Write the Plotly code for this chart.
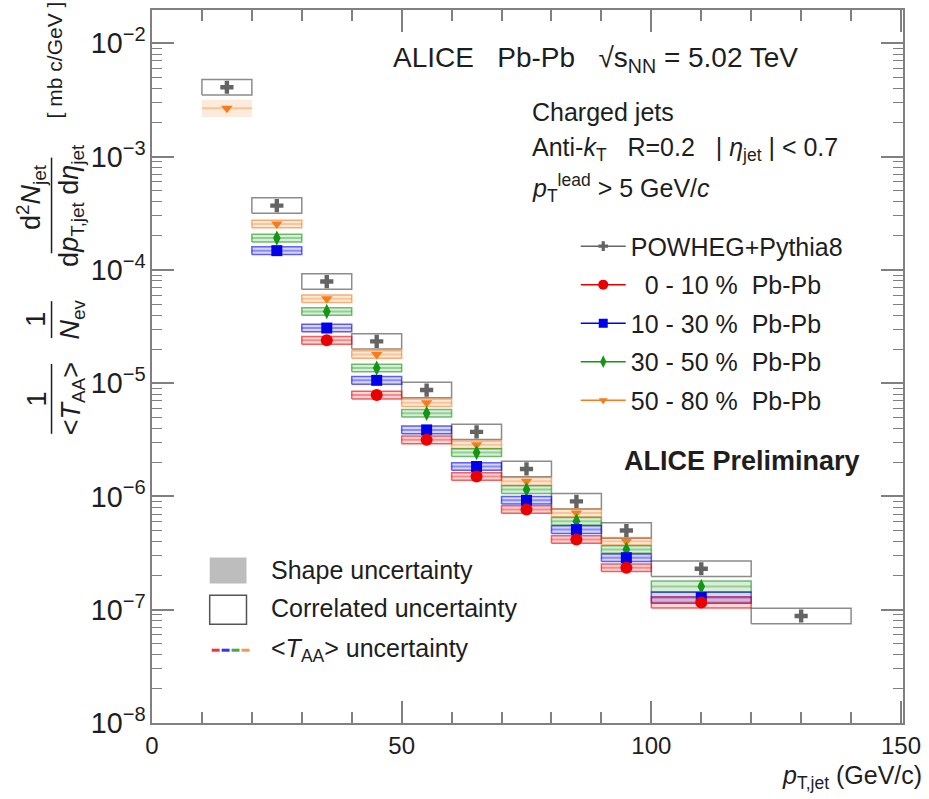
import plotly.graph_objects as go

# ---- data -------------------------------------------------------------
bin_lo = [10, 20, 30, 40, 50, 60, 70, 80, 90, 100, 120]
bin_hi = [20, 30, 40, 50, 60, 70, 80, 90, 100, 120, 140]

powheg = [4.1e-3, 3.7e-4, 7.9e-5, 2.34e-5, 8.7e-6, 3.72e-6, 1.75e-6, 9.06e-7, 5.0e-7, 2.30e-7, 8.8e-8]
cent_0_10 = [None, None, 2.39e-5, 7.85e-6, 3.16e-6, 1.50e-6, 7.66e-7, 4.17e-7, 2.35e-7, 1.16e-7, None]
cent_10_30 = [None, 1.48e-4, 3.07e-5, 1.06e-5, 3.87e-6, 1.84e-6, 9.25e-7, 5.10e-7, 2.88e-7, 1.28e-7, None]
cent_30_50 = [None, 1.91e-4, 4.30e-5, 1.36e-5, 5.42e-6, 2.44e-6, 1.15e-6, 6.04e-7, 3.40e-7, 1.60e-7, None]
cent_50_80 = [2.67e-3, 2.54e-4, 5.57e-5, 1.79e-5, 6.73e-6, 2.86e-6, 1.36e-6, 7.16e-7, 4.03e-7, None, None]

# relative uncertainties per bin
powheg_corr_rel = [0.17] * 11
pbpb_shape_rel = [0.19, 0.08, 0.08, 0.08, 0.08, 0.08, 0.08, 0.08, 0.08, 0.12, None]
pbpb_corr_rel = [None, 0.08, 0.08, 0.08, 0.08, 0.08, 0.08, 0.08, 0.08, 0.12, None]

x_ticks = [0, 50, 100, 150]

# ---- geometry helpers (pixel -> paper) ---------------------------------
W, H = 929, 799
ML, MR, MT, MB = 152, 22, 8, 76
PW, PH = W - ML - MR, H - MT - MB


def px(x):
    return (x - ML) / PW


def py(y):
    return 1 - (y - MT) / PH


centers = [(a + b) / 2 for a, b in zip(bin_lo, bin_hi)]
half_w = [(b - a) / 2 for a, b in zip(bin_lo, bin_hi)]


def boxes(values, rel):
    xs, ys = [], []
    for x0, x1, v, r in zip(bin_lo, bin_hi, values, rel):
        if v is None or r is None:
            continue
        lo, hi = v / (1 + r), v * (1 + r)
        xs += [x0, x1, x1, x0, x0, None]
        ys += [lo, lo, hi, hi, lo, None]
    return xs, ys


def rgba(rgb, a):
    return "rgba(%d,%d,%d,%.2f)" % (rgb[0], rgb[1], rgb[2], a)


GREY = (100, 100, 100)
RED = (235, 0, 0)
BLUE = (0, 0, 235)
GREEN = (20, 150, 20)
ORANGE = (245, 125, 30)

series = [
    ("\u00a0\u00a00 - 10 %\u00a0\u00a0Pb-Pb", cent_0_10, RED, "circle", 12),
    ("10 - 30 %\u00a0\u00a0Pb-Pb", cent_10_30, BLUE, "square", 11),
    ("30 - 50 %\u00a0\u00a0Pb-Pb", cent_30_50, GREEN, "diamond-tall", 11),
    ("50 - 80 %\u00a0\u00a0Pb-Pb", cent_50_80, ORANGE, "triangle-down", 10),
]

fig = go.Figure()

# POWHEG correlated-uncertainty boxes
bx, by = boxes(powheg, powheg_corr_rel)
fig.add_trace(go.Scatter(x=bx, y=by, mode="lines", fill="toself",
                         fillcolor="rgba(255,255,255,0)",
                         line=dict(color="rgba(120,120,120,0.85)", width=1.5),
                         showlegend=False, hoverinfo="skip"))

# Pb-Pb shape (filled) and correlated (outline) boxes, drawn from peripheral to central
for name, vals, col, sym, sz in reversed(series):
    sx, sy = boxes(vals, pbpb_shape_rel)
    fig.add_trace(go.Scatter(x=sx, y=sy, mode="lines", fill="toself",
                             fillcolor=rgba(col, 0.16), line=dict(width=0),
                             showlegend=False, hoverinfo="skip"))
    cx, cy = boxes(vals, pbpb_corr_rel)
    fig.add_trace(go.Scatter(x=cx, y=cy, mode="lines",
                             line=dict(color=rgba(col, 0.6), width=1.5),
                             showlegend=False, hoverinfo="skip"))

# POWHEG points
fig.add_trace(go.Scatter(x=centers, y=powheg, mode="markers",
                         marker=dict(symbol="cross", size=11, color=rgba(GREY, 1)),
                         showlegend=False))

# Pb-Pb points with bin-width bars
for name, vals, col, sym, sz in reversed(series):
    fig.add_trace(go.Scatter(
        x=centers, y=vals, mode="markers",
        marker=dict(symbol=sym, size=sz, color=rgba(col, 1)),
        error_x=dict(type="data", array=half_w, symmetric=True, width=0,
                     thickness=2, color=rgba(col, 0.35)),
        showlegend=False))

# legend entries
fig.add_trace(go.Scatter(x=[None], y=[None], mode="lines+markers", name="POWHEG+Pythia8",
                         legendgroup="a",
                         line=dict(color=rgba(GREY, 1), width=1.5),
                         marker=dict(symbol="cross", size=8, color=rgba(GREY, 1))))
for i, (name, vals, col, sym, sz) in enumerate(series):
    fig.add_trace(go.Scatter(x=[None], y=[None], mode="lines+markers", name=name,
                             legendgroup="g%d" % i,
                             line=dict(color=rgba(col, 1), width=1.5),
                             marker=dict(symbol=sym, size=sz - 2, color=rgba(col, 1))))

FONT = "Liberation Sans, Arial, Helvetica, sans-serif"
TXT = "#1e1e1e"
AX = "#808080"

shapes = []
ann = []


def text(x, y, s, size, anchor="left", bold=False, angle=0):
    ann.append(dict(x=px(x), y=py(y), xref="paper", yref="paper", text=s,
                    showarrow=False, xanchor=anchor, yanchor="middle",
                    textangle=angle,
                    font=dict(family=FONT, size=size, color=TXT,
                              weight="bold" if bold else "normal")))


# headline and selection info
text(392, 58, "ALICE\u00a0\u00a0\u00a0Pb-Pb\u00a0\u00a0\u00a0\u221as<sub>NN</sub> = 5.02 TeV", 28)
text(532, 110, "Charged jets", 25)
text(532, 147, "Anti-<i>k</i><sub>T</sub>\u00a0\u00a0\u00a0R=0.2\u00a0\u00a0\u00a0| <i>\u03b7</i><sub>jet</sub> | &lt; 0.7", 25)
text(532, 186, "<i>p</i><sub>T</sub><sup>lead</sup> &gt; 5 GeV/<i>c</i>", 25)
text(625, 460, "ALICE Preliminary", 27, bold=True)

# uncertainty key
shapes.append(dict(type="rect", xref="paper", yref="paper", x0=px(210), x1=px(247),
                   y0=py(583), y1=py(557), fillcolor="#bdbdbd", line=dict(width=0)))
shapes.append(dict(type="rect", xref="paper", yref="paper", x0=px(210), x1=px(247),
                   y0=py(624), y1=py(595), fillcolor="rgba(0,0,0,0)",
                   line=dict(color="#555555", width=1.5)))
seg_cols = [RED, BLUE, GREEN, ORANGE]
for k, c in enumerate(seg_cols):
    x0 = 212 + k * 10
    shapes.append(dict(type="line", xref="paper", yref="paper", x0=px(x0), x1=px(x0 + 8),
                       y0=py(650), y1=py(650), line=dict(color=rgba(c, 0.8), width=3)))
text(270, 570, "Shape uncertainty", 25)
text(270, 608, "Correlated uncertainty", 25)
text(270, 650, "&lt;<i>T</i><sub>AA</sub>&gt; uncertainty", 25)

# y-axis title built from stacked fractions
text(36, 398, "1", 27, anchor="center", angle=-90)
text(72, 398, "&lt;<i>T</i><sub>AA</sub>&gt;", 27, anchor="center", angle=-90)
shapes.append(dict(type="line", xref="paper", yref="paper", x0=px(51), x1=px(51),
                   y0=py(363), y1=py(433), line=dict(color=TXT, width=1.5)))
text(36, 318, "1", 27, anchor="center", angle=-90)
text(72, 318, "<i>N</i><sub>ev</sub>", 27, anchor="center", angle=-90)
shapes.append(dict(type="line", xref="paper", yref="paper", x0=px(51), x1=px(51),
                   y0=py(300), y1=py(337), line=dict(color=TXT, width=1.5)))
text(31, 196, "d<sup>2</sup><i>N</i><sub>jet</sub>", 27, anchor="center", angle=-90)
text(71, 204, "d<i>p</i><sub>T,jet</sub> d<i>\u03b7</i><sub>jet</sub>", 27, anchor="center", angle=-90)
shapes.append(dict(type="line", xref="paper", yref="paper", x0=px(51), x1=px(51),
                   y0=py(156), y1=py(252), line=dict(color=TXT, width=1.5)))
text(54, 58, "[ mb c/GeV ]", 21, anchor="center", angle=-90)

# x-axis title
ann.append(dict(x=px(928), y=py(777), xref="paper", yref="paper",
                text="<i>p</i><sub>T,jet</sub> (GeV/c)", showarrow=False,
                xanchor="right", yanchor="middle",
                font=dict(family=FONT, size=25, color=TXT)))

fig.update_layout(
    width=W, height=H,
    margin=dict(l=ML, r=MR, t=MT, b=MB),
    paper_bgcolor="white", plot_bgcolor="white",
    font=dict(family=FONT, color=TXT),
    shapes=shapes, annotations=ann,
    legend=dict(x=px(578), y=py(222), xanchor="left", yanchor="top",
                bgcolor="rgba(0,0,0,0)", font=dict(family=FONT, size=25, color=TXT),
                tracegroupgap=3, itemwidth=45),
)

fig.update_xaxes(
    range=[0, 150.4], tickvals=x_ticks, showgrid=False, zeroline=False,
    ticks="inside", ticklen=22, tickwidth=1.5, tickcolor=AX,
    showline=True, linecolor=AX, linewidth=1.5, mirror="ticks",
    tickfont=dict(family=FONT, size=24, color=TXT),
    minor=dict(ticks="inside", dtick=10, ticklen=11, tickwidth=1.5, tickcolor=AX),
)
fig.update_yaxes(
    type="log", range=[-8, -1.705], dtick=1, exponentformat="power",
    showgrid=False, zeroline=False,
    ticks="inside", ticklen=22, tickwidth=1.5, tickcolor=AX,
    showline=True, linecolor=AX, linewidth=1.5, mirror="ticks",
    tickfont=dict(family=FONT, size=23, color=TXT),
    minor=dict(ticks="inside", dtick="D1", ticklen=10, tickwidth=1.2, tickcolor=AX),
)

fig.write_html("out.html")
